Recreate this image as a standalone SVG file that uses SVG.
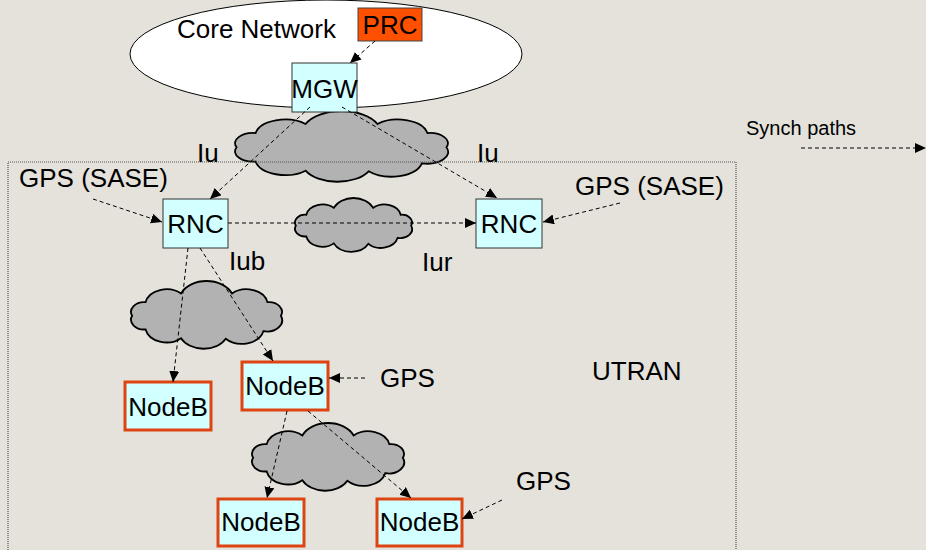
<svg xmlns="http://www.w3.org/2000/svg" xmlns:xlink="http://www.w3.org/1999/xlink" width="926" height="550" viewBox="0 0 926 550">
<style>
text{font-family:"Liberation Sans",Arial,sans-serif;font-size:26px;fill:#000}
.c{text-anchor:middle}
.cyan{fill:#D2FFFF;stroke:#333;stroke-width:1}
.nodeb{fill:#D2FFFF;stroke:#DD4411;stroke-width:3}
.sync{fill:none;stroke:#000;stroke-width:1;stroke-dasharray:4 3;marker-end:url(#ah)}
.cloud{fill:#B2B2B2;stroke:#000;stroke-width:1.8}
</style>
<defs>
<marker id="ah" markerUnits="userSpaceOnUse" markerWidth="13" markerHeight="11" refX="11" refY="5" orient="auto" viewBox="0 0 13 11">
<path d="M0,0 L11,5 L0,10 z" fill="#000"/>
</marker>
<symbol id="cloud" viewBox="18.8 0.3 162.4 97.2" preserveAspectRatio="none" overflow="visible">
<path class="cloud" vector-effect="non-scaling-stroke" d="M20,50 A14,14 0 0 1 34.5,30.5 A23,23 0 0 1 72.6,18.1 A30,30 0 0 1 127.4,18.1 A23,23 0 0 1 165.5,30.5 A14,14 0 0 1 180,50 A16,16 0 0 1 161.3,71.9 A24,24 0 0 1 120.7,82.8 A27,27 0 0 1 72.6,82 A23,23 0 0 1 34.5,69.5 A14,14 0 0 1 20,50 Z"/>
</symbol>
</defs>
<rect x="0" y="0" width="926" height="550" fill="#E4E2DB"/>

<g id="core-network">
<ellipse cx="326" cy="54" rx="196" ry="54" fill="#fff" stroke="#000" stroke-width="1"/>
<text x="177" y="38">Core Network</text>
</g>

<g id="clouds">
<use xlink:href="#cloud" x="235" y="111" width="213" height="71"/>
<use xlink:href="#cloud" x="295" y="198" width="117" height="54"/>
<use xlink:href="#cloud" x="131" y="281" width="151" height="68"/>
<use xlink:href="#cloud" x="252" y="423" width="152" height="68"/>
</g>

<g id="utran">
<path d="M8,560 V162 H736 V560" fill="none" stroke="#555" stroke-width="1.2" stroke-dasharray="1 1"/>
<text x="592" y="380">UTRAN</text>
</g>

<g id="prc">
<rect x="358" y="8" width="64" height="33" fill="#FF5000" stroke="#444" stroke-width="1"/>
<text class="c" x="390" y="34">PRC</text>
</g>
<g id="mgw">
<rect class="cyan" x="292" y="63" width="65" height="49"/>
<text class="c" x="324.5" y="98">MGW</text>
</g>
<g id="rnc-left">
<rect class="cyan" x="163" y="199" width="65" height="49"/>
<text class="c" x="195.5" y="233">RNC</text>
</g>
<g id="rnc-right">
<rect class="cyan" x="476" y="199" width="66" height="49"/>
<text class="c" x="509" y="233">RNC</text>
</g>
<g id="nodeb-left">
<rect class="nodeb" x="125" y="382" width="86" height="48"/>
<text class="c" x="168" y="416">NodeB</text>
</g>
<g id="nodeb-mid">
<rect class="nodeb" x="242" y="362" width="86" height="48"/>
<text class="c" x="285" y="395">NodeB</text>
</g>
<g id="nodeb-bl">
<rect class="nodeb" x="218" y="499" width="86" height="47"/>
<text class="c" x="261" y="531">NodeB</text>
</g>
<g id="nodeb-br">
<rect class="nodeb" x="377" y="499" width="85" height="47"/>
<text class="c" x="419.5" y="531">NodeB</text>
</g>

<g id="gps-sase-left"><text x="19" y="187">GPS (SASE)</text></g>
<g id="gps-sase-right"><text x="575" y="195">GPS (SASE)</text></g>
<g id="gps-mid"><text x="380" y="387">GPS</text></g>
<g id="gps-bottom"><text x="516" y="490">GPS</text></g>

<g id="connectors">
<line class="sync" x1="375" y1="41" x2="350" y2="63"/>
<line class="sync" x1="310" y1="107" x2="210" y2="199"/>
<line class="sync" x1="342" y1="107" x2="497" y2="198"/>
<line class="sync" x1="93" y1="199" x2="162" y2="222"/>
<line class="sync" x1="620" y1="203" x2="543" y2="222"/>
<line class="sync" x1="228" y1="223" x2="476" y2="223"/>
<line class="sync" x1="188" y1="248" x2="173" y2="382"/>
<line class="sync" x1="200" y1="248" x2="273" y2="361"/>
<line class="sync" x1="365" y1="378" x2="329" y2="378"/>
<line class="sync" x1="287" y1="411" x2="267" y2="498"/>
<line class="sync" x1="308" y1="411" x2="411" y2="498"/>
<line class="sync" x1="502" y1="500" x2="462" y2="519"/>
</g>

<g id="labels">
<text x="197" y="162">Iu</text>
<text x="477" y="162">Iu</text>
<text x="229" y="270">Iub</text>
<text x="422" y="271">Iur</text>
</g>

<g id="legend">
<text x="746" y="135" style="font-size:20px">Synch paths</text>
<line class="sync" x1="801" y1="148" x2="926" y2="148"/>
</g>
</svg>
